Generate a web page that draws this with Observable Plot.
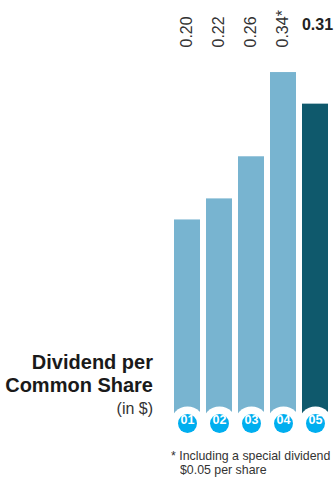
<!DOCTYPE html>
<html>
<head>
<meta charset="utf-8">
<script src="https://cdn.jsdelivr.net/npm/d3@7"></script>
<script src="https://cdn.jsdelivr.net/npm/@observablehq/plot@0.6"></script>
<style>
  html, body { margin: 0; padding: 0; background: #fff; }
  body { width: 336px; height: 477px; position: relative; overflow: hidden;
         font-family: "Liberation Sans", Arial, sans-serif; color: #222; }
  #chart { position: absolute; left: 0; top: 0; }
  .ylab { position: absolute; right: 183px; text-align: right; white-space: nowrap; }
  #ytitle { top: 351px; font-size: 20px; font-weight: bold; line-height: 23px; color: #1a1a1a; }
  #yunit { top: 400px; font-size: 16px; line-height: 17px; color: #333; }
  .note { position: absolute; font-size: 13px; line-height: 14px; white-space: nowrap; color: #333;
          transform: scaleX(0.95); transform-origin: 0 0; }
</style>
</head>
<body>
<div id="chart"></div>
<div id="ytitle" class="ylab"></div>
<div id="yunit" class="ylab"></div>
<div id="note1" class="note"></div>
<div id="note2" class="note"></div>
<script>
// ---- data ----
const years = ["01", "02", "03", "04", "05"];
const dividends = [0.20, 0.22, 0.26, 0.34, 0.31];
const valueLabels = ["0.20", "0.22", "0.26", "0.34*", "0.31"];
const isCurrent = [false, false, false, false, true];
const titleLines = ["Dividend per", "Common Share"];
const unitLabel = "(in $)";
const noteLines = ["* Including a special dividend", "$0.05 per share"];

// ---- styles ----
const lightBar = "#78b4d0";
const darkBar = "#0f596c";
const badge = "#00aeef";

const data = years.map((y, i) => ({year: y, value: dividends[i], label: valueLabels[i], current: isCurrent[i]}));

const chart = Plot.plot({
  width: 336,
  height: 445,
  marginLeft: 173,
  marginRight: 8,
  marginTop: 51,
  marginBottom: 15,
  style: {fontFamily: "'Liberation Sans', Arial, sans-serif", background: "white", overflow: "visible"},
  x: {domain: years, paddingInner: 0.194, paddingOuter: 0, axis: null},
  y: {domain: [0, 0.36], axis: null},
  marks: [
    Plot.barY(data, {x: "year", y: "value", fill: d => d.current ? darkBar : lightBar}),
    Plot.dot(data, {x: "year", frameAnchor: "bottom", dy: -7, r: 17, fill: "white", stroke: "none"}),
    Plot.dot(data, {x: "year", frameAnchor: "bottom", dy: -7, r: 9.5, fill: badge, stroke: "none"}),
    Plot.text(data, {x: "year", frameAnchor: "bottom", dy: -7, text: "year", fill: "white", fontWeight: "bold", fontSize: 12.5}),
    Plot.text(data.filter(d => !d.current), {x: "year", frameAnchor: "top", dy: -4, dx: -7, rotate: -90, textAnchor: "start", text: "label", fontSize: 16, fill: "#333"}),
    Plot.text(data.filter(d => d.current), {x: "year", frameAnchor: "top", dy: -21.5, dx: 2, lineAnchor: "bottom", text: "label", fontWeight: "bold", fontSize: 16, fill: "#222"})
  ]
});
document.getElementById("chart").appendChild(chart);

document.getElementById("ytitle").innerHTML = titleLines.join("<br>");
document.getElementById("yunit").textContent = unitLabel;
const n1 = document.getElementById("note1");
n1.textContent = noteLines[0];
n1.style.left = "171px"; n1.style.top = "449px";
const n2 = document.getElementById("note2");
n2.textContent = noteLines[1];
n2.style.left = "180px"; n2.style.top = "463px";
</script>
</body>
</html>
